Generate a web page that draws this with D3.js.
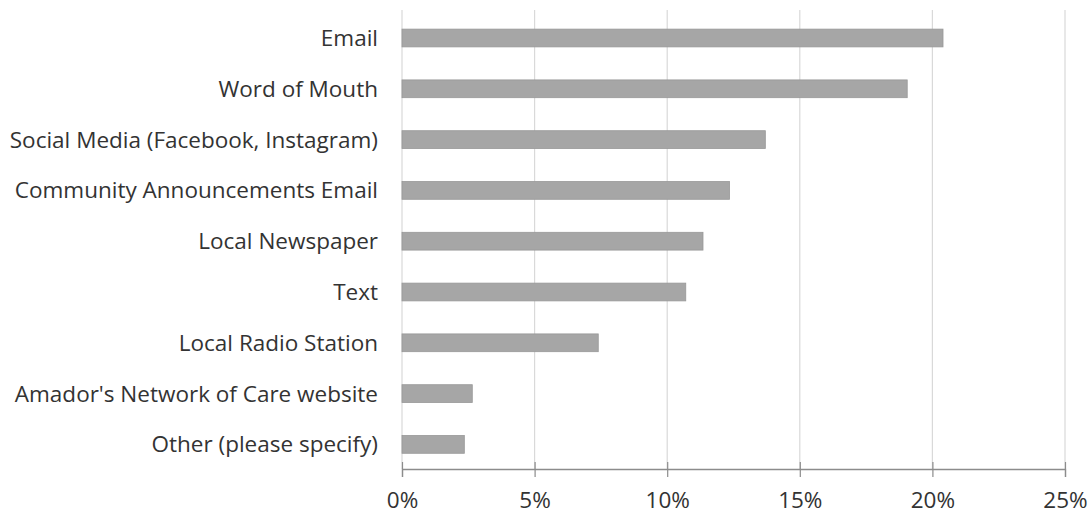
<!DOCTYPE html>
<html>
<head>
<meta charset="utf-8">
<script src="https://cdn.jsdelivr.net/npm/d3@7"></script>
<style>
  html, body { margin: 0; padding: 0; background: #fff; }
  svg { display: block; }
  text { font-family: "Open Sans", "Noto Sans", sans-serif; fill: #333; }
</style>
</head>
<body>
<svg id="chart" width="1090" height="514"></svg>
<script>
// Survey responses: how people hear about services
const categories = [
  "Email",
  "Word of Mouth",
  "Social Media (Facebook, Instagram)",
  "Community Announcements Email",
  "Local Newspaper",
  "Text",
  "Local Radio Station",
  "Amador's Network of Care website",
  "Other (please specify)"
];
const shares = [20.4, 19.05, 13.7, 12.35, 11.35, 10.7, 7.4, 2.65, 2.35];
const tickValues = [0, 5, 10, 15, 20, 25];
const tickLabels = ["0%", "5%", "10%", "15%", "20%", "25%"];

const svg = d3.select("#chart");
const fontSize = 22.5;
const fontFamily = '"Open Sans", "Noto Sans", sans-serif';

const x = d3.scaleLinear().domain([0, 25]).range([402, 1065]);
const y = d3.scaleBand()
  .domain(categories)
  .range([12.6, 469.8])
  .paddingInner(0.65)
  .paddingOuter(0.325);

const axisY = 469;

// vertical gridlines
svg.append("g")
  .selectAll("line")
  .data(tickValues.slice(1))
  .join("line")
  .attr("x1", d => x(d)).attr("x2", d => x(d))
  .attr("y1", 10).attr("y2", axisY)
  .attr("stroke", "#d9d9d9")
  .attr("stroke-width", 1.2);

// left edge line along zero
svg.append("line")
  .attr("x1", x(0)).attr("x2", x(0))
  .attr("y1", 10).attr("y2", axisY)
  .attr("stroke", "#d9d9d9")
  .attr("stroke-width", 1.2);

// bars
svg.append("g")
  .selectAll("rect")
  .data(shares)
  .join("rect")
  .attr("x", x(0))
  .attr("y", (d, i) => y(categories[i]))
  .attr("width", d => x(d) - x(0))
  .attr("height", y.bandwidth())
  .attr("fill", "#a6a6a6")
  .attr("stroke", "#989898")
  .attr("stroke-width", 0.8);

// value axis at the bottom
const xAxis = d3.axisBottom(x)
  .tickValues(tickValues)
  .tickFormat((d, i) => tickLabels[i])
  .tickSize(8);

const gx = svg.append("g")
  .attr("transform", `translate(0,${axisY})`)
  .call(xAxis);
gx.select(".domain").attr("stroke", "#8c8c8c").attr("stroke-width", 1.3);
gx.selectAll(".tick line")
  .attr("y1", -7)
  .attr("y2", 8)
  .attr("stroke", "#8c8c8c")
  .attr("stroke-width", 1.2);
gx.selectAll(".tick text")
  .attr("y", 39)
  .attr("dy", null)
  .style("font-family", fontFamily)
  .style("font-size", fontSize + "px")
  .attr("fill", "#333");

// category labels
svg.append("g")
  .selectAll("text")
  .data(categories)
  .join("text")
  .attr("x", 378)
  .attr("y", d => y(d) + y.bandwidth() / 2 + 8)
  .attr("text-anchor", "end")
  .style("font-size", fontSize + "px")
  .text(d => d);
</script>
</body>
</html>
